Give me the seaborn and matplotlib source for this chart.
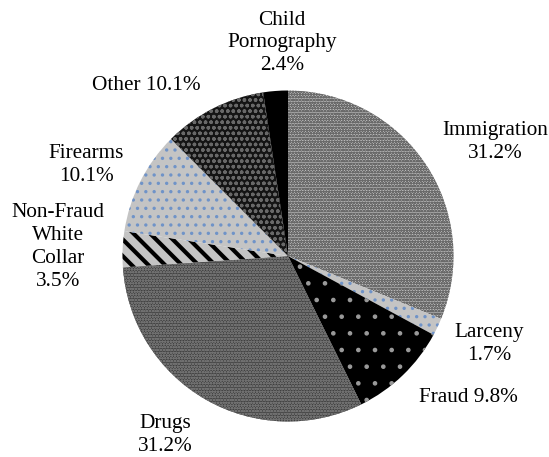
import matplotlib
matplotlib.use("Agg")
import matplotlib.pyplot as plt
import seaborn as sns

sns.set_theme(style="white")
plt.rcParams["font.family"] = ["Liberation Serif", "DejaVu Serif"]

# Offence shares, clockwise from 12 o'clock
categories = ["Immigration", "Larceny", "Fraud", "Drugs",
              "Non-Fraud\nWhite\nCollar", "Firearms", "Other", "Child\nPornography"]
shares = [31.2, 1.7, 9.8, 31.2, 3.5, 10.1, 10.1, 2.4]

# Fill, hatch colour and hatch pattern for each wedge
faces = ["#c0c0c0", "#c4c4c4", "#000000", "#404040", "#c4c4c4", "#c4c4c4", "#141414", "#000000"]
hatch_colors = ["#6a6a6a", "#6f93c8", "#9a9a9a", "#707070", "#000000", "#6f93c8", "#686868", "#000000"]
hatches = ["oooooo", "..", ".", "oooooo", "\\\\", "..", "ooo", None]
hatch_lw = [0.9, 1.2, 0.9, 0.8, 3.0, 1.2, 1.0, 1.0]

W, H, DPI = 549, 457, 100
cx, cy, R = 288, 256, 165.5  # pie centre and radius in pixels

fig = plt.figure(figsize=(W / DPI, H / DPI), dpi=DPI)
ax = fig.add_axes([0, 0, 1, 1])

wedges, _ = ax.pie(shares, startangle=90, counterclock=False, radius=1.0,
                   colors=faces, wedgeprops=dict(linewidth=0))
for w, hc, h, lw in zip(wedges, hatch_colors, hatches, hatch_lw):
    w.set_edgecolor(hc)
    w.set_linewidth(0)
    if h:
        w.set_hatch(h)
        if hasattr(w, "set_hatch_linewidth"):
            w.set_hatch_linewidth(lw)

ax.set_xlim(-cx / R, (W - cx) / R)
ax.set_ylim(-(H - cy) / R, cy / R)
ax.set_aspect("equal")
ax.axis("off")

# Label anchor points (pixels) beside each wedge
label_px = [(495, 142), (489, 344), (468, 397), (165, 435),
            (58, 247), (86, 165), (146, 86), (282, 43)]
inline = {"Fraud", "Other"}
for cat, val, (px, py) in zip(categories, shares, label_px):
    sep = " " if cat in inline else "\n"
    ax.text((px - cx) / R, (cy - py) / R, f"{cat}{sep}{val:.1f}%",
            ha="center", va="center", fontsize=15.3, color="black",
            linespacing=1.28)

fig.savefig("out.png", dpi=DPI)
